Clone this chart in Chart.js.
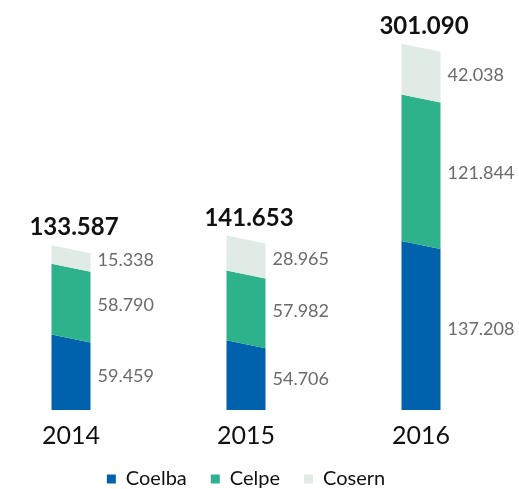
<!DOCTYPE html>
<html lang="pt-BR">
<head>
  <meta charset="UTF-8" />
  <title>Coelba, Celpe, Cosern</title>
  <script src="https://cdn.jsdelivr.net/npm/chart.js@4"></script>
  <style>
    html, body { margin: 0; padding: 0; background: #fff; }
    #wrap { width: 519px; height: 489px; }
  </style>
</head>
<body>
  <div id="wrap"><canvas id="chart" width="519" height="489"></canvas></div>

  <script>
    // values in the chart's own units (pt-BR thousands: 59.459 = 59459)
    const years = ['2014', '2015', '2016'];
    const coelba = [59459, 54706, 137208];
    const celpe = [58790, 57982, 121844];
    const cosern = [15338, 28965, 42038];
    const totals = [133587, 141653, 301090];

    const seriesNames = ['Coelba', 'Celpe', 'Cosern'];
    const seriesColors = ['#0061ad', '#2eb28c', '#e1ebe5'];

    const SLANT = 4;

    function fmt(v) {
      return String(v).replace(/\B(?=(\d{3})+(?!\d))/g, '.');
    }

    // bars are drawn as slanted-top blocks, with value labels beside them
    const slantBars = {
      id: 'slantBars',
      beforeDatasetsDraw(chart) {
        const ctx = chart.ctx;
        ctx.save();
        chart.data.datasets.forEach((ds, di) => {
          const meta = chart.getDatasetMeta(di);
          meta.data.forEach((bar, i) => {
            const half = bar.width / 2;
            const left = bar.x - half, right = bar.x + half;
            const flat = di === 0;
            ctx.beginPath();
            ctx.moveTo(left, bar.y - SLANT);
            ctx.lineTo(right, bar.y + SLANT);
            ctx.lineTo(right, flat ? bar.base : bar.base + SLANT);
            ctx.lineTo(left, flat ? bar.base : bar.base - SLANT);
            ctx.closePath();
            ctx.fillStyle = ds.backgroundColor;
            ctx.fill();

            ctx.fillStyle = '#6b6b6b';
            ctx.font = '18px Lato';
            ctx.textAlign = 'left';
            ctx.textBaseline = 'middle';
            ctx.fillText(fmt(ds.data[i]), right + 7, (bar.y + bar.base) / 2 + 2);
          });
        });

        const top = chart.getDatasetMeta(chart.data.datasets.length - 1);
        top.data.forEach((bar, i) => {
          ctx.fillStyle = '#111';
          ctx.font = 'bold 24px Lato';
          ctx.textAlign = 'center';
          ctx.textBaseline = 'alphabetic';
          ctx.fillText(fmt(totals[i]), bar.x + 3, bar.y - 14);
        });
        ctx.restore();
        return false;
      }
    };

    new Chart(document.getElementById('chart'), {
      type: 'bar',
      data: {
        labels: years,
        datasets: [coelba, celpe, cosern].map((d, k) => ({
          label: seriesNames[k],
          data: d,
          backgroundColor: seriesColors[k],
          barThickness: 39
        }))
      },
      options: {
        responsive: false,
        animation: false,
        layout: { padding: { left: 71, right: 98, top: 1, bottom: -10 } },
        scales: {
          x: {
            stacked: true,
            offset: false,
            grid: { display: false, drawTicks: false },
            border: { display: false },
            ticks: { color: '#111', font: { family: 'Lato', size: 25 }, padding: 11, maxRotation: 0 },
            afterFit(scale) { scale.height -= 17; }
          },
          y: {
            stacked: true,
            display: false,
            min: 0,
            max: 340000
          }
        },
        plugins: {
          tooltip: { enabled: false },
          legend: {
            position: 'bottom',
            labels: {
              boxWidth: 9,
              boxHeight: 9,
              padding: 24,
              color: '#111',
              font: { family: 'Lato', size: 20 }
            }
          }
        }
      },
      plugins: [slantBars]
    });
  </script>
</body>
</html>
